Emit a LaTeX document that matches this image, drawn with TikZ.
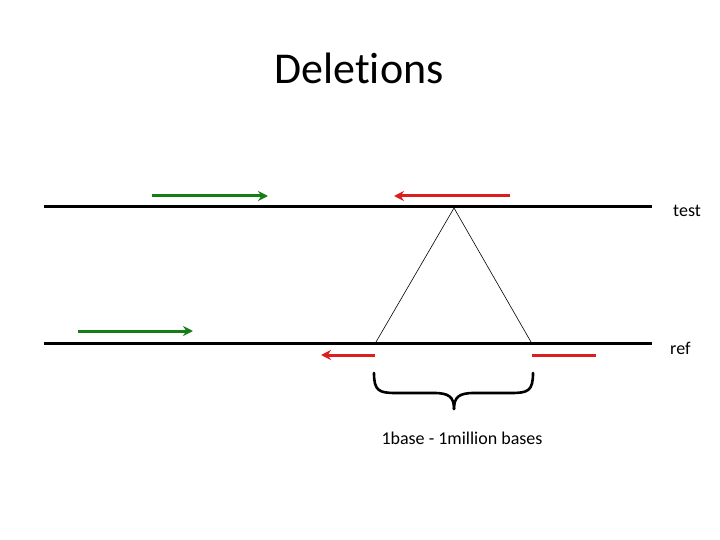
\documentclass[tikz,border=0pt]{standalone}
\usepackage{fontspec}
\setmainfont[Ligatures=NoCommon]{Carlito}
\usetikzlibrary{arrows.meta}
\definecolor{arrgreen}{RGB}{20,125,20}
\definecolor{arrred}{RGB}{220,30,30}
\tikzset{
  seq/.style={line width=3pt,black},
  readg/.style={line width=3pt,arrgreen,-{Stealth[length=10pt,width=10pt]}},
  readr/.style={line width=3pt,arrred,-{Stealth[length=10pt,width=10pt]}},
  readrn/.style={line width=3pt,arrred},
  tri/.style={line width=0.6pt,black},
  brace/.style={line width=2.6pt,black,line cap=round},
  lbl/.style={font=\fontsize{18}{20}\selectfont,inner sep=0pt}
}
\begin{document}
\begin{tikzpicture}[x=1pt,y=-1pt]
\useasboundingbox (0,0) rectangle (720,540);
\node[font=\fontsize{44}{48}\selectfont] (title) at (359,68) {Deletions};
% sequences
\coordinate (t1) at (44,207); \coordinate (t2) at (652,207);
\coordinate (r1) at (44,343); \coordinate (r2) at (652,343);
\draw[seq] (t1) -- (t2);
\draw[seq] (r1) -- (r2);
\node[lbl,anchor=west] (test) at (673,211) {test};
\node[lbl,anchor=west] (ref) at (670,348) {ref};
% reads
\coordinate (g1a) at (152,196); \coordinate (g1b) at (268,196);
\draw[readg] (g1a) -- (g1b);
\coordinate (r1a) at (510,196); \coordinate (r1b) at (394,196);
\draw[readr] (r1a) -- (r1b);
\coordinate (g2a) at (78,331); \coordinate (g2b) at (193,331);
\draw[readg] (g2a) -- (g2b);
\coordinate (r2a) at (375,355); \coordinate (r2b) at (321,355);
\draw[readr] (r2a) -- (r2b);
\coordinate (r3a) at (532,355); \coordinate (r3b) at (596,355);
\draw[readrn] (r3a) -- (r3b);
% triangle
\coordinate (apex) at (454,208);
\coordinate (tl) at (376,342);
\coordinate (tr) at (531,342);
\draw[tri] (tl) -- (apex) -- (tr);
% brace
\coordinate (bl) at (374,373); \coordinate (br) at (533,373); \coordinate (bm) at (454,409);
\draw[brace] (bl) .. controls (374,391) and (379,393) .. (396,393) -- (434,393)
  .. controls (449,393) and (454,397) .. (bm);
\draw[brace] (br) .. controls (533,391) and (528,393) .. (511,393) -- (474,393)
  .. controls (459,393) and (454,397) .. (bm);
\node[lbl] (range) at (462,438) {1base - 1million bases};
\end{tikzpicture}
\end{document}
